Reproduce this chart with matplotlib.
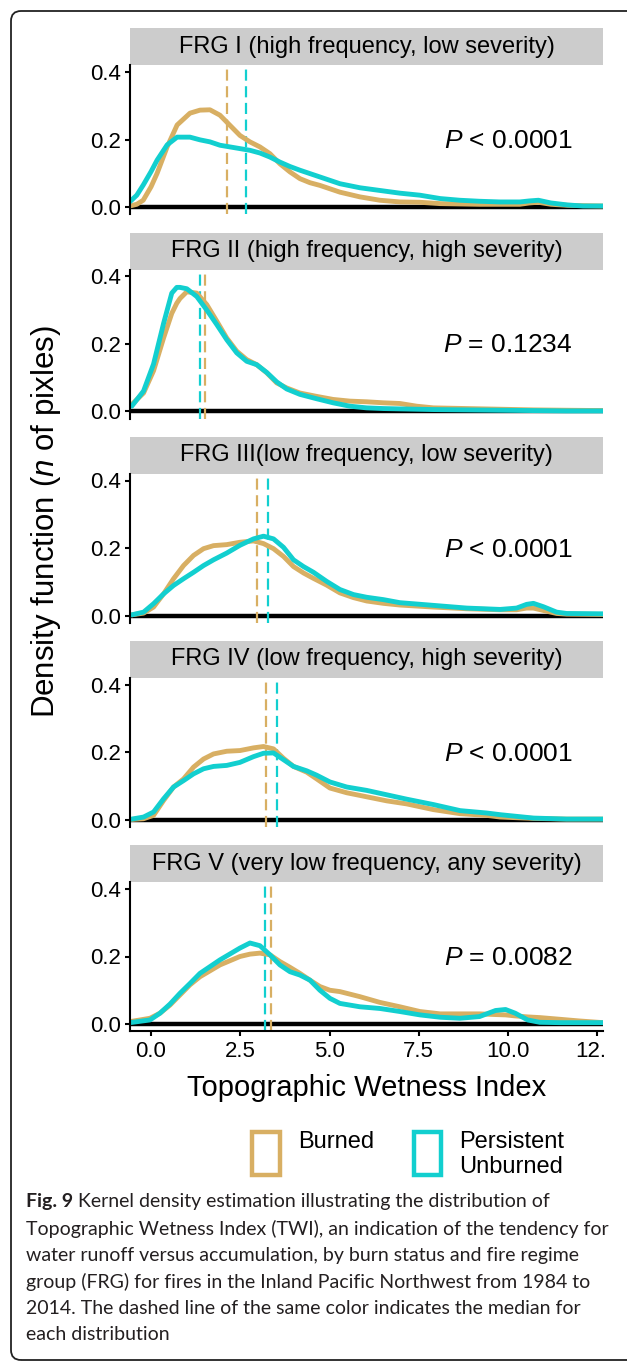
import matplotlib
matplotlib.use("Agg")
import matplotlib.pyplot as plt
from matplotlib.patches import Rectangle, FancyBboxPatch
from matplotlib.transforms import Bbox, TransformedBbox

plt.rcParams['font.family'] = ['Liberation Sans', 'DejaVu Sans']
plt.rcParams['mathtext.fontset'] = 'custom'
plt.rcParams['mathtext.rm'] = 'Liberation Sans'
plt.rcParams['mathtext.it'] = 'Liberation Sans:italic'

# ---------------- data ----------------
panel_titles = [
    "FRG I (high frequency, low severity)",
    "FRG II (high frequency, high severity)",
    "FRG III(low frequency, low severity)",
    "FRG IV (low frequency, high severity)",
    "FRG V (very low frequency, any severity)",
]
p_labels = [r"$P$ < 0.0001", r"$P$ = 0.1234", r"$P$ < 0.0001", r"$P$ < 0.0001", r"$P$ = 0.0082"]
series_names = ["Burned", "Persistent\nUnburned"]

p1_x = [-0.59, -0.4, -0.22, 0.0, 0.17, 0.45, 0.73, 1.09, 1.37, 1.65, 1.93, 2.21, 2.49, 2.77, 3.05, 3.33,
        3.61, 3.89, 4.17, 4.45, 4.73, 5.29, 5.85, 6.41, 6.97, 7.53, 8.1, 8.65, 9.2, 9.77, 10.33, 10.6,
        10.85, 11.2, 11.67, 12.1, 12.66]
p1_burned = [0.003, 0.008, 0.02, 0.06, 0.10, 0.178, 0.243, 0.278, 0.287, 0.288, 0.272, 0.242, 0.212,
             0.193, 0.178, 0.158, 0.128, 0.104, 0.084, 0.072, 0.064, 0.044, 0.03, 0.02, 0.015, 0.014,
             0.01, 0.009, 0.008, 0.008, 0.008, 0.012, 0.014, 0.008, 0.005, 0.004, 0.003]
p1_unburned = [0.016, 0.035, 0.065, 0.105, 0.139, 0.184, 0.207, 0.207, 0.199, 0.193, 0.183, 0.178, 0.173,
               0.168, 0.16, 0.148, 0.133, 0.12, 0.109, 0.099, 0.089, 0.069, 0.057, 0.049, 0.041, 0.035,
               0.025, 0.02, 0.017, 0.015, 0.015, 0.018, 0.02, 0.012, 0.006, 0.003, 0.003]

p2_x = [-0.54, -0.21, 0.07, 0.35, 0.58, 0.72, 0.81, 1.0, 1.28, 1.56, 1.84, 2.12, 2.4, 2.68, 2.96, 3.24,
        3.52, 3.8, 4.17, 4.64, 5.1, 5.57, 6.04, 6.51, 6.97, 7.44, 7.91, 8.84, 9.78, 10.71, 11.64, 12.67]
p2_burned = [0.02, 0.054, 0.12, 0.217, 0.29, 0.32, 0.334, 0.354, 0.35, 0.316, 0.267, 0.217, 0.178, 0.153,
             0.138, 0.114, 0.084, 0.069, 0.054, 0.044, 0.035, 0.03, 0.028, 0.025, 0.023, 0.015, 0.01,
             0.008, 0.006, 0.004, 0.003, 0.002]
p2_unburned = [0.015, 0.06, 0.14, 0.26, 0.35, 0.367, 0.367, 0.363, 0.34, 0.30, 0.257, 0.212, 0.173, 0.148,
               0.138, 0.115, 0.087, 0.066, 0.05, 0.037, 0.025, 0.015, 0.01, 0.008, 0.007, 0.006, 0.005,
               0.004, 0.003, 0.002, 0.001, 0.001]

p3_x = [-0.54, -0.21, 0.07, 0.35, 0.63, 0.91, 1.19, 1.47, 1.75, 2.12, 2.49, 2.87, 3.15, 3.43, 3.71, 3.99,
        4.27, 4.55, 4.92, 5.29, 5.67, 6.04, 6.51, 6.97, 7.91, 8.84, 9.78, 10.24, 10.52, 10.71, 10.99,
        11.36, 11.64, 12.67]
p3_burned = [0.002, 0.007, 0.025, 0.064, 0.109, 0.148, 0.178, 0.198, 0.207, 0.21, 0.217, 0.221, 0.213,
             0.198, 0.175, 0.145, 0.126, 0.11, 0.09, 0.067, 0.053, 0.043, 0.036, 0.031, 0.025, 0.02,
             0.017, 0.017, 0.022, 0.022, 0.015, 0.006, 0.004, 0.003]
p3_unburned = [0.002, 0.01, 0.035, 0.064, 0.089, 0.109, 0.128, 0.148, 0.165, 0.185, 0.208, 0.227, 0.235,
               0.227, 0.202, 0.165, 0.145, 0.128, 0.101, 0.077, 0.062, 0.054, 0.047, 0.038, 0.03, 0.022,
               0.018, 0.022, 0.033, 0.036, 0.026, 0.01, 0.006, 0.005]

p4_x = [-0.54, -0.21, 0.07, 0.35, 0.63, 0.91, 1.19, 1.47, 1.75, 2.12, 2.49, 2.87, 3.15, 3.43, 3.71, 3.99,
        4.36, 4.64, 5.01, 5.48, 6.04, 6.6, 7.16, 7.91, 8.66, 9.4, 9.78, 10.71, 11.64, 12.67]
p4_burned = [0.001, 0.003, 0.013, 0.057, 0.097, 0.121, 0.156, 0.18, 0.195, 0.203, 0.205, 0.213, 0.217,
             0.21, 0.182, 0.158, 0.141, 0.121, 0.094, 0.08, 0.068, 0.056, 0.047, 0.03, 0.018, 0.013,
             0.008, 0.004, 0.002, 0.002]
p4_unburned = [0.002, 0.008, 0.023, 0.062, 0.097, 0.116, 0.136, 0.151, 0.158, 0.161, 0.17, 0.187, 0.197,
               0.198, 0.178, 0.158, 0.145, 0.132, 0.112, 0.097, 0.087, 0.074, 0.061, 0.045, 0.027, 0.02,
               0.015, 0.005, 0.002, 0.002]

p5_x = [-0.59, -0.31, -0.03, 0.25, 0.53, 0.81, 1.09, 1.37, 1.93, 2.49, 2.77, 3.05, 3.33, 3.61, 3.89, 4.17,
        4.45, 4.73, 5.01, 5.29, 5.85, 6.41, 6.97, 7.53, 8.1, 8.65, 9.2, 9.65, 9.93, 10.2, 10.55, 10.89,
        11.45, 12.0, 12.66]
p5_burned = [0.007, 0.012, 0.017, 0.032, 0.056, 0.086, 0.116, 0.14, 0.175, 0.2, 0.207, 0.21, 0.205, 0.185,
             0.168, 0.15, 0.13, 0.111, 0.1, 0.096, 0.081, 0.064, 0.051, 0.037, 0.03, 0.03, 0.03, 0.028,
             0.027, 0.024, 0.021, 0.019, 0.014, 0.009, 0.004]
p5_unburned = [0.004, 0.008, 0.012, 0.032, 0.059, 0.091, 0.12, 0.15, 0.19, 0.225, 0.24, 0.232, 0.205,
               0.175, 0.155, 0.145, 0.13, 0.1, 0.076, 0.061, 0.051, 0.046, 0.037, 0.027, 0.02, 0.017,
               0.022, 0.04, 0.043, 0.032, 0.012, 0.005, 0.004, 0.004, 0.004]

median_burned = [2.13, 1.51, 2.96, 3.21, 3.37]
median_unburned = [2.65, 1.37, 3.27, 3.54, 3.20]

x_ticks = [0.0, 2.5, 5.0, 7.5, 10.0, 12.5]
x_tick_labels = ["0.0", "2.5", "5.0", "7.5", "10.0", "12.5"]
y_ticks = [0.0, 0.2, 0.4]
y_tick_labels = ["0.0", "0.2", "0.4"]

caption_bold = "Fig. 9"
caption_lines = [
    " Kernel density estimation illustrating the distribution of",
    "Topographic Wetness Index (TWI), an indication of the tendency for",
    "water runoff versus accumulation, by burn status and fire regime",
    "group (FRG) for fires in the Inland Pacific Northwest from 1984 to",
    "2014. The dashed line of the same color indicates the median for",
    "each distribution",
]

panels = [
    (p1_x, p1_burned, p1_unburned),
    (p2_x, p2_burned, p2_unburned),
    (p3_x, p3_burned, p3_unburned),
    (p4_x, p4_burned, p4_unburned),
    (p5_x, p5_burned, p5_unburned),
]

# ---------------- style / layout ----------------
TAN = "#D8AF63"
CYAN = "#12CFCF"
STRIP = "#CCCCCC"

W, H = 627, 1362
fig = plt.figure(figsize=(W / 100, H / 100), dpi=100)


def fx(px):
    return px / W


def fy(py):
    return 1 - py / H


AX_L, AX_R = 130, 603
YMIN, YMAX = -0.022, 0.42
XMIN, XMAX = -0.59, 12.66
PPU = 337.5
ZERO0, STEP = 207.0, 204.25
STRIP_H = 37.0

for k, (xs, yb, yu) in enumerate(panels):
    zero = ZERO0 + STEP * k
    top = zero - YMAX * PPU
    bot = zero - YMIN * PPU
    ax = fig.add_axes([fx(AX_L), fy(bot), (AX_R - AX_L) / W, (bot - top) / H])
    ax.set_xlim(XMIN, XMAX)
    ax.set_ylim(YMIN, YMAX)
    ax.axhline(0, color="black", lw=3.2, zorder=2)
    ax.axvline(median_burned[k], color=TAN, lw=1.6, ls=(0, (5, 2.5)), zorder=2.1)
    ax.axvline(median_unburned[k], color=CYAN, lw=1.6, ls=(0, (5, 2.5)), zorder=2.1)
    ax.plot(xs, yb, color=TAN, lw=3.5, zorder=2.3, solid_joinstyle="round", solid_capstyle="round")
    ax.plot(xs, yu, color=CYAN, lw=3.5, zorder=2.4, solid_joinstyle="round", solid_capstyle="round")
    ax.text(11.82, 0.195, p_labels[k], ha="right", va="center", fontsize=19)

    for s in ["top", "right"]:
        ax.spines[s].set_visible(False)
    ax.spines["left"].set_linewidth(1.5)
    ax.set_yticks(y_ticks)
    ax.set_yticklabels(y_tick_labels)
    ax.tick_params(axis="y", length=3.8, width=1.5, labelsize=16, pad=3)
    if k < 4:
        ax.spines["bottom"].set_visible(False)
        ax.set_xticks([])
    else:
        ax.spines["bottom"].set_linewidth(1.5)
        ax.set_xticks(x_ticks)
        ax.set_xticklabels(x_tick_labels)
        ax.tick_params(axis="x", length=3.8, width=1.5, labelsize=16, pad=3)
        clipbox = TransformedBbox(Bbox([[0, 0], [606 / W, 1]]), fig.transFigure)
        for lbl in ax.get_xticklabels():
            lbl.set_clip_on(True)
            lbl.set_clip_box(clipbox)

    # strip
    h_ax = bot - top
    ax.add_patch(Rectangle((0, 1), 1, STRIP_H / h_ax, transform=ax.transAxes,
                           facecolor=STRIP, edgecolor="none", clip_on=False))
    ax.text(0.5, 1 + (STRIP_H / 2) / h_ax, panel_titles[k], transform=ax.transAxes,
            ha="center", va="center", fontsize=17)

# axis titles
fig.text(fx(46), fy(522), "Density function ($n$ of pixles)", rotation=90,
         ha="center", va="center", fontsize=22.5)
fig.text(fx(366.5), fy(1088), "Topographic Wetness Index", ha="center", va="center", fontsize=21)

# legend
for (x0, x1), col, name in zip([(250, 282), (412, 443)], [TAN, CYAN], series_names):
    inset = 2
    fig.add_artist(Rectangle((fx(x0 + inset), fy(1177 - inset)), (x1 - x0 - 2 * inset) / W,
                             (1177 - 1130 - 2 * inset) / H, transform=fig.transFigure,
                             facecolor="white", edgecolor=col, lw=3.2))
    for j, line in enumerate(name.split("\n")):
        fig.text(fx(x1 + 16), fy(1142 + 25 * j), line, ha="left", va="center", fontsize=17)

# caption
renderer = fig.canvas.get_renderer()
probe = fig.text(0, 0, caption_lines[1], family="Lato", fontsize=10)
w10 = probe.get_window_extent(renderer).width
probe.remove()
cap_fs = 10 * 582 / w10
cap_col = "#231F20"
cap_y0, cap_dy = 1202, 26.6
bold = fig.text(fx(26), fy(cap_y0), caption_bold, family="Lato", fontweight="bold",
                fontsize=cap_fs, ha="left", va="center", color=cap_col)
bw = bold.get_window_extent(renderer).width
for j, line in enumerate(caption_lines):
    x0 = 26 + (bw if j == 0 else 0)
    fig.text(fx(x0), fy(cap_y0 + cap_dy * j), line, family="Lato", fontsize=cap_fs,
             ha="left", va="center", color=cap_col)

# rounded frame
fig.add_artist(FancyBboxPatch((0.21, 0.12), 6.7 - 0.21, 13.41 - 0.12,
                              boxstyle="round,pad=0.1", transform=fig.dpi_scale_trans,
                              facecolor="none", edgecolor="#222222", lw=1.3))

fig.savefig("out.png", dpi=100)
